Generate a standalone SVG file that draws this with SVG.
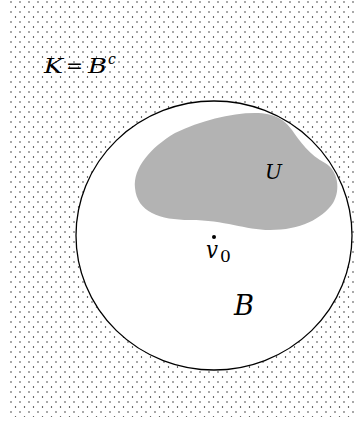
<svg xmlns="http://www.w3.org/2000/svg" width="356" height="421" viewBox="0 0 356 421">
<style>
.m{font-family:"DejaVu Serif","Liberation Serif",serif;font-style:italic;fill:#000}
.r{font-family:"DejaVu Serif","Liberation Serif",serif;fill:#000}
</style>
<defs>
<pattern id="dots" x="0" y="0" width="9" height="10" patternUnits="userSpaceOnUse">
<circle cx="2" cy="2" r="0.7" fill="#111"/>
<circle cx="6.5" cy="7" r="0.7" fill="#111"/>
</pattern>
</defs>
<rect width="356" height="421" fill="#fff"/>
<g id="K">
<rect x="10" y="0" width="345" height="417" fill="url(#dots)"/>
<text class="m" x="44" y="73" font-size="21" textLength="19" lengthAdjust="spacingAndGlyphs">K</text>
<text class="r" x="66" y="73" font-size="21" textLength="17" lengthAdjust="spacingAndGlyphs">=</text>
<text class="m" x="88" y="73" font-size="21" textLength="19" lengthAdjust="spacingAndGlyphs">B</text>
<text class="m" x="108" y="64" font-size="14">c</text>
</g>
<g id="B">
<ellipse cx="214" cy="235.5" rx="138" ry="134.5" fill="#fff" stroke="#000" stroke-width="1.3"/>
<text class="m" x="234" y="315" font-size="27" textLength="20" lengthAdjust="spacingAndGlyphs">B</text>
</g>
<g id="U">
<path d="M 135,188 C 133,168 150,148 175,133 C 200,121 230,113 255,113 C 275,113 285,120 292,130 C 300,142 310,155 325,163 C 338,170 341,190 333,203 C 322,219 300,230 270,230 C 245,230 225,220 190,220 C 160,220 137,212 135,188 Z" fill="#b3b3b3"/>
<text class="m" x="265" y="179" font-size="21" textLength="17" lengthAdjust="spacingAndGlyphs">U</text>
</g>
<g id="v0">
<circle cx="214" cy="237" r="2" fill="#000"/>
<text class="m" x="206" y="258" font-size="25" textLength="12" lengthAdjust="spacingAndGlyphs">v</text>
<text class="r" x="220" y="262" font-size="17">0</text>
</g>
<g id="connectors"></g>
</svg>
